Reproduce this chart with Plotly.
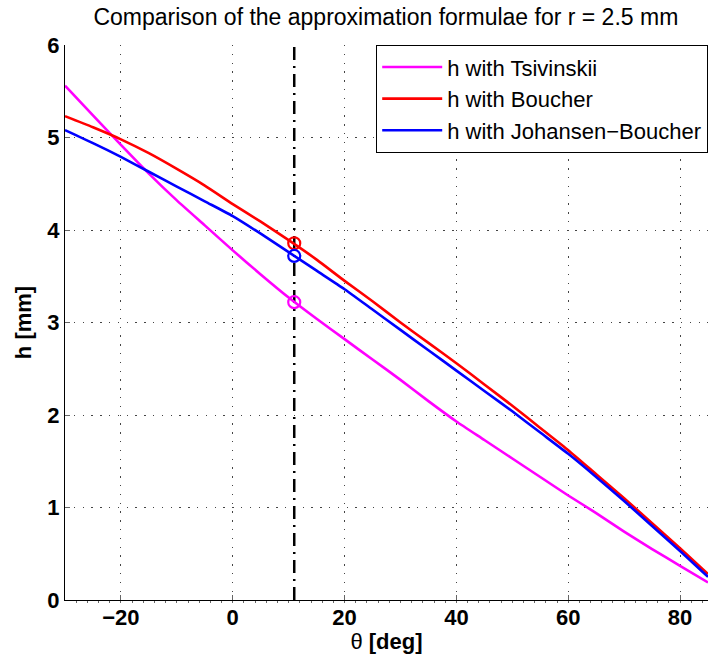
import plotly.graph_objects as go

# Contact angle theta [deg]
theta = [-30, -25, -20, -15, -10, -5, 0, 5, 10, 15, 20, 25, 30, 35, 40,
         45, 50, 55, 60, 65, 70, 75, 80, 85]

# Meniscus height h [mm] for r = 2.5 mm, three approximation formulae
h_tsivinskii = [5.56, 5.24, 4.92, 4.61, 4.32, 4.05, 3.78, 3.52, 3.27, 3.04,
                2.82, 2.60, 2.38, 2.15, 1.93, 1.73, 1.53, 1.33, 1.13, 0.94,
                0.74, 0.55, 0.37, 0.19]
h_boucher = [5.23, 5.11, 4.98, 4.83, 4.66, 4.48, 4.28, 4.09, 3.89, 3.68,
             3.45, 3.23, 3.00, 2.78, 2.56, 2.33, 2.10, 1.86, 1.62, 1.36,
             1.10, 0.83, 0.56, 0.28]
h_johansen_boucher = [5.08, 4.94, 4.79, 4.63, 4.47, 4.31, 4.15, 3.96, 3.76,
                      3.56, 3.36, 3.14, 2.92, 2.70, 2.48, 2.26, 2.04, 1.81,
                      1.58, 1.33, 1.07, 0.80, 0.53, 0.25]

# Operating point
theta_op = 11.0
h_op = {"Tsivinskii": 3.22, "Boucher": 3.856, "Johansen-Boucher": 3.72}

series_names = ["h with Tsivinskii", "h with Boucher", "h with Johansen\u2212Boucher"]
series_colors = ["#ff00ff", "#ff0000", "#0000ff"]
series_values = [h_tsivinskii, h_boucher, h_johansen_boucher]
op_values = [h_op["Tsivinskii"], h_op["Boucher"], h_op["Johansen-Boucher"]]

x_ticks = [-20, 0, 20, 40, 60, 80]
y_ticks = [0, 1, 2, 3, 4, 5, 6]
x_range = [-30, 85]
y_range = [0, 6]

FONT = "Liberation Sans, Arial, Helvetica, sans-serif"

fig = go.Figure()

# Vertical dash-dot marker line at the operating angle
fig.add_trace(go.Scatter(
    x=[theta_op, theta_op], y=y_range, mode="lines",
    line=dict(color="black", width=2.5, dash="13px,6px,2px,6px"),
    showlegend=False, hoverinfo="skip"))

for name, color, vals in zip(series_names, series_colors, series_values):
    fig.add_trace(go.Scatter(
        x=theta, y=vals, mode="lines", name=name,
        line=dict(color=color, width=2.6, shape="spline", smoothing=0.6)))

for color, val in zip(series_colors, op_values):
    fig.add_trace(go.Scatter(
        x=[theta_op], y=[val], mode="markers", showlegend=False,
        marker=dict(symbol="circle-open", size=12, color=color,
                    line=dict(width=2.2, color=color))))

axis_common = dict(
    showline=True, linecolor="black", linewidth=1.2, mirror=False,
    showgrid=True, gridcolor="#444444", gridwidth=1, griddash="1.4px,7.4px",
    zeroline=False, ticks="inside", ticklen=5, tickcolor="#666666",
    tickwidth=1, tickfont=dict(family=FONT, size=22, color="black", weight="bold"),
)

fig.update_xaxes(
    range=x_range, tickvals=x_ticks, ticklabelstandoff=-3,
    minor=dict(ticks="outside", dtick=2, ticklen=2, tickcolor="#666666", showgrid=False),
    title=dict(text="\u03b8 <b>[deg]</b>", font=dict(family=FONT, size=22, color="black"),
               standoff=0),
    **axis_common)
fig.update_yaxes(
    range=y_range, tickvals=y_ticks, ticklabelstandoff=0,
    title=dict(text="<b>h [mm]</b>", font=dict(family=FONT, size=22, color="black"),
               standoff=9),
    **axis_common)

fig.update_layout(
    width=710, height=664,
    margin=dict(l=65, r=2, t=45, b=64, autoexpand=False),
    paper_bgcolor="white", plot_bgcolor="white",
    font=dict(family=FONT, color="black"),
    title=dict(text="Comparison of the approximation formulae for r = 2.5 mm",
               x=0.5435, xanchor="center", y=0.974, yanchor="middle",
               font=dict(family=FONT, size=23, color="black")),
    legend=dict(x=1, y=1, xanchor="right", yanchor="top",
                bgcolor="white", bordercolor="black", borderwidth=1.2,
                font=dict(family=FONT, size=22, color="black"),
                itemwidth=60, tracegroupgap=0),
    showlegend=True,
)

fig.write_html("out.html")
